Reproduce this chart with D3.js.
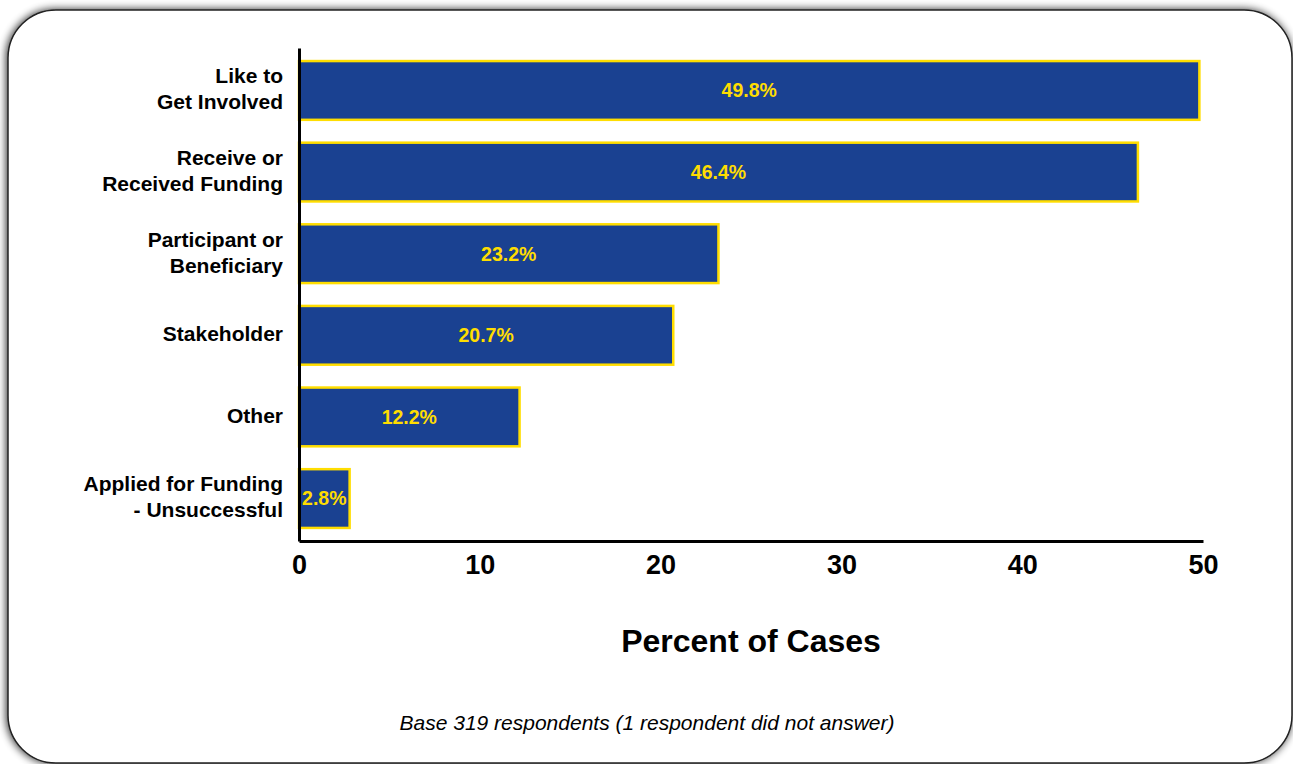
<!DOCTYPE html>
<html>
<head>
<meta charset="utf-8">
<script src="https://cdn.jsdelivr.net/npm/d3@7"></script>
<style>
  body { margin: 0; background: #fff; }
  svg { display: block; }
  svg text { font-family: Arial, "Liberation Sans", Helvetica, sans-serif; }
</style>
</head>
<body>
<div class="chart"></div>
<script>
const categories = [
  ['Like to', 'Get Involved'],
  ['Receive or', 'Received Funding'],
  ['Participant or', 'Beneficiary'],
  ['Stakeholder'],
  ['Other'],
  ['Applied for Funding', '- Unsuccessful']
];
const values = [49.8, 46.4, 23.2, 20.7, 12.2, 2.8];
const ticks = [0, 10, 20, 30, 40, 50];

const width = 1293, height = 764;
const svg = d3.select('.chart').append('svg')
  .attr('width', width)
  .attr('height', height);

// grey glow round the rounded frame
const defs = svg.append('defs');
const f = defs.append('filter').attr('id', 'shadow')
  .attr('x', '-3%').attr('y', '-5%').attr('width', '106%').attr('height', '110%');
f.append('feGaussianBlur').attr('in', 'SourceAlpha').attr('stdDeviation', 4);
f.append('feOffset').attr('dx', -1).attr('dy', 0);
f.append('feComponentTransfer').append('feFuncA').attr('type', 'linear').attr('slope', 0.85);
const m = f.append('feMerge');
m.append('feMergeNode');
m.append('feMergeNode').attr('in', 'SourceGraphic');

svg.append('rect')
  .attr('x', 8).attr('y', 10)
  .attr('width', 1284).attr('height', 753)
  .attr('rx', 48).attr('ry', 48)
  .attr('fill', '#fff')
  .attr('stroke', '#222')
  .attr('stroke-width', 1.5)
  .attr('filter', 'url(#shadow)');

const x = d3.scaleLinear().domain([0, 50]).range([299, 1203]);
const y = d3.scaleBand().domain(d3.range(values.length)).range([48, 541]).paddingInner(0.28).paddingOuter(0.16);

const g = svg.append('g');

g.selectAll('.bar')
  .data(values)
  .enter().append('rect')
  .attr('class', 'bar')
  .attr('x', x(0))
  .attr('y', (d, i) => y(i))
  .attr('width', d => x(d) - x(0))
  .attr('height', y.bandwidth())
  .attr('fill', '#1a4191')
  .attr('stroke', '#ffdd00')
  .attr('stroke-width', 2.5);

g.selectAll('.val')
  .data(values)
  .enter().append('text')
  .attr('class', 'val')
  .attr('x', d => (x(d) + x(0)) / 2)
  .attr('y', (d, i) => y(i) + y.bandwidth() / 2)
  .attr('dy', '0.35em')
  .attr('text-anchor', 'middle')
  .attr('fill', '#ffdd00')
  .attr('font-weight', 'bold')
  .attr('font-size', 19.5)
  .text(d => d.toFixed(1) + '%');

// category labels
const labels = g.selectAll('.cat')
  .data(categories)
  .enter().append('text')
  .attr('class', 'cat')
  .attr('text-anchor', 'end')
  .attr('font-weight', 'bold')
  .attr('font-size', 21)
  .attr('fill', '#000');
labels.each(function(lines, i) {
  const t = d3.select(this);
  const cy = y(i) + y.bandwidth() / 2 - 1.5;
  const lh = 26;
  lines.forEach((l, k) => {
    t.append('tspan')
      .attr('x', 283)
      .attr('y', cy + (k - (lines.length - 1) / 2) * lh)
      .attr('dy', '0.35em')
      .text(l);
  });
});

// axes
const xAxis = d3.axisBottom(x).tickValues(ticks).tickSize(0).tickPadding(14);
const xg = g.append('g').attr('transform', 'translate(0,541)').call(xAxis);
xg.select('.domain').attr('stroke', '#000').attr('stroke-width', 3);
xg.selectAll('.tick text')
  .attr('font-size', 27)
  .attr('font-weight', 'bold')
  .attr('font-family', 'Arial, "Liberation Sans", Helvetica, sans-serif')
  .attr('fill', '#000');

const yAxis = d3.axisLeft(y).tickSize(0).tickFormat('');
const yg = g.append('g').attr('transform', `translate(${x(0)},0)`).call(yAxis);
yg.select('.domain').attr('stroke', '#000').attr('stroke-width', 3);

svg.append('text')
  .attr('x', 751).attr('y', 652)
  .attr('text-anchor', 'middle')
  .attr('font-weight', 'bold')
  .attr('font-size', 32)
  .text('Percent of Cases');

svg.append('text')
  .attr('x', 647).attr('y', 730)
  .attr('text-anchor', 'middle')
  .attr('font-style', 'italic')
  .attr('font-size', 21)
  .text('Base 319 respondents (1 respondent did not answer)');
</script>
</body>
</html>
